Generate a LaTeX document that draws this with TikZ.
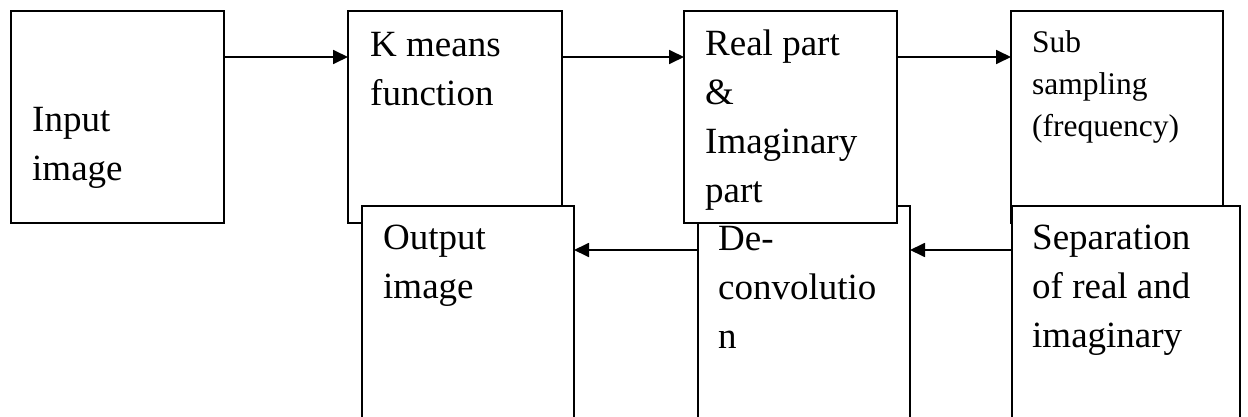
\documentclass[tikz,border=0pt]{standalone}
\usepackage{fontspec}
\setmainfont{Liberation Serif}
\usetikzlibrary{arrows.meta}
\begin{document}
\begin{tikzpicture}[x=1pt,y=-1pt,
  blk/.style={draw=black,fill=white,line width=1.8pt,inner sep=0pt,outer sep=0pt,
    anchor=north west,minimum height=212pt},
  % labels are placed by the baseline of their last line
  lbl/.style={anchor=base west,inner sep=0pt,align=left,
    font=\fontsize{37}{49}\selectfont},
  small/.style={lbl,font=\fontsize{31.5}{42.5}\selectfont},
  arr/.style={line width=1.8pt,-{Triangle[length=15pt,width=14pt]}}]
  \clip (0,0) rectangle (1248,417);
  \fill[white] (0,0) rectangle (1248,417);

  % upper row
  \node[blk,minimum width=213pt] (in) at (11,11) {};
  \node[blk,minimum width=214pt] (km) at (348,11) {};
  % lower row (boxes run past the lower edge)
  \node[blk,minimum width=212pt,minimum height=240pt] (out) at (362,206) {};
  \node[blk,minimum width=212pt,minimum height=240pt] (dc) at (698,206) {};
  % upper row continued, drawn over the lower boxes
  \node[blk,minimum width=213pt] (rp) at (684,11) {};
  \node[blk,minimum width=212pt] (ss) at (1011,11) {};
  \node[blk,minimum width=228pt,minimum height=240pt] (sep) at (1012,206) {};

  % labels
  \node[lbl] (tin) at (32,181) {Input\\image};
  \node[lbl] (tkm) at (370,106) {K means\\function};
  \node[lbl] (trp) at (705,202) {Real part\\\&\\Imaginary\\part};
  \node[small] (tss) at (1032,137) {Sub\\sampling\\(frequency)};
  \node[lbl] (tout) at (383,298) {Output\\image};
  \node[lbl] (tdc) at (718,348) {De-\\convolutio\\n};
  \node[lbl] (tsep) at (1032,347) {Separation\\of real and\\imaginary};

  % connectors
  \draw[arr] ([yshift=-46pt]in.north east) -- ([yshift=-46pt]km.north west);
  \draw[arr] ([yshift=-46pt]km.north east) -- ([yshift=-46pt]rp.north west);
  \draw[arr] ([yshift=-46pt]rp.north east) -- ([yshift=-46pt]ss.north west);
  \draw[arr] ([yshift=-44pt]sep.north west) -- ([yshift=-44pt]dc.north east);
  \draw[arr] ([yshift=-44pt]dc.north west) -- ([yshift=-44pt]out.north east);
\end{tikzpicture}
\end{document}
